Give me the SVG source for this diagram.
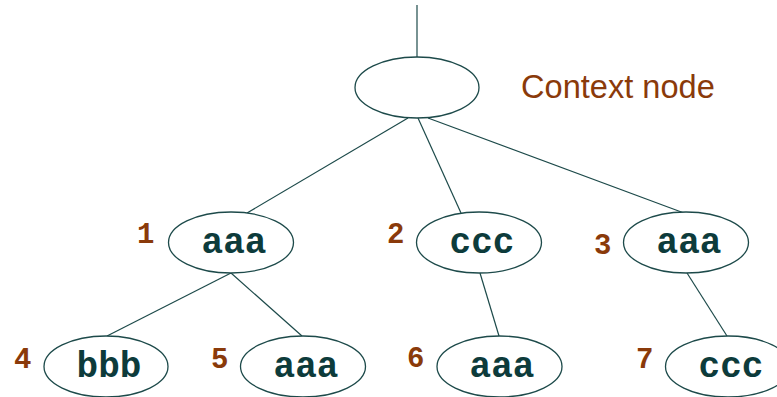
<svg xmlns="http://www.w3.org/2000/svg" width="777" height="397" viewBox="0 0 777 397">
<style>
.n{fill:#fff;stroke:#1d4a4a;stroke-width:1.3}
.t{font-family:"Liberation Mono","Courier New",monospace;font-weight:bold;font-size:36px;fill:#0d3b3b;text-anchor:middle}
.d{font-family:"Liberation Mono","Courier New",monospace;font-weight:bold;font-size:29px;fill:#8a3a0a}
.e{stroke:#1d4a4a;stroke-width:1.2;fill:none}
</style>
<g id="connectors">
<line class="e" x1="417" y1="5" x2="417" y2="57"/>
<line class="e" x1="408" y1="118" x2="247" y2="213"/>
<line class="e" x1="418" y1="118" x2="461" y2="213"/>
<line class="e" x1="428" y1="118" x2="684" y2="213"/>
<line class="e" x1="231" y1="273" x2="107" y2="336"/>
<line class="e" x1="231" y1="273" x2="302" y2="336"/>
<line class="e" x1="480" y1="273" x2="499" y2="336"/>
<line class="e" x1="687" y1="273" x2="727" y2="336"/>
</g>
<g id="root"><ellipse class="n" cx="417" cy="87.5" rx="62" ry="30.5"/></g>
<g id="label"><text x="521" y="98" font-family="'Liberation Sans',Arial,sans-serif" font-size="32.6" fill="#8a3a0a">Context node</text></g>
<g id="n1"><ellipse class="n" cx="231" cy="242.5" rx="62.5" ry="30.5"/><text class="t" x="234" y="253">aaa</text><text class="d" x="137" y="243">1</text></g>
<g id="n2"><ellipse class="n" cx="479" cy="242.5" rx="62.5" ry="30.5"/><text class="t" x="482" y="253">ccc</text><text class="d" x="387" y="243">2</text></g>
<g id="n3"><ellipse class="n" cx="686" cy="242.5" rx="62.5" ry="30.5"/><text class="t" x="689" y="253">aaa</text><text class="d" x="594" y="254">3</text></g>
<g id="n4"><ellipse class="n" cx="106" cy="366.5" rx="62" ry="30.5"/><text class="t" x="109" y="377">bbb</text><text class="d" x="14" y="368">4</text></g>
<g id="n5"><ellipse class="n" cx="303" cy="366.5" rx="62.5" ry="30.5"/><text class="t" x="306" y="377">aaa</text><text class="d" x="211" y="368">5</text></g>
<g id="n6"><ellipse class="n" cx="499.5" cy="366.5" rx="62.5" ry="30.5"/><text class="t" x="502" y="377">aaa</text><text class="d" x="407" y="367">6</text></g>
<g id="n7"><ellipse class="n" cx="728" cy="366.5" rx="62.5" ry="30.5"/><text class="t" x="731" y="377">ccc</text><text class="d" x="636" y="368">7</text></g>
</svg>
